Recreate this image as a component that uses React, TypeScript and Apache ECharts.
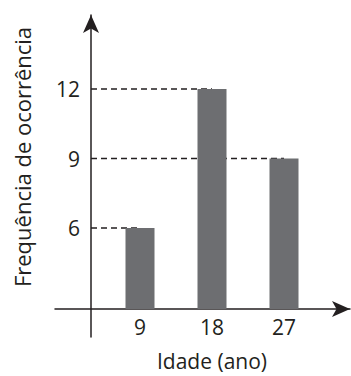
import React, { useEffect, useRef } from "react";
import * as echarts from "echarts";

const ages = [9, 18, 27];
const freqs = [6, 12, 9];
const xTickLabels = [9, 18, 27];
const yTickLabels = [6, 9, 12];
const xTitle = "Idade (ano)";
const yTitle = "Frequência de ocorrência";

const X_MIN = 2.875;
const X_MAX = 35.25;
const Y_MIN = 2.5;
const Y_MAX = 15.2;

const INK = "#231f20";
const FONT = "Open Sans";

export default function App() {
  const ref = useRef<HTMLDivElement>(null);
  useEffect(() => {
    const chart = echarts.init(ref.current!, null, { renderer: "svg" });
    const dashed = freqs.map((f, i) => ({
      type: "line",
      xAxisIndex: 0,
      yAxisIndex: 0,
      z: 1,
      symbol: "none",
      silent: true,
      lineStyle: { color: INK, width: 1.5, type: [6, 4] },
      data: [
        [X_MIN, f],
        [ages[i], f],
      ],
    }));
    chart.setOption({
      animation: false,
      grid: [
        { left: 91, right: 1, top: 15, bottom: 376 - 309 },
        { left: 55, right: 1, top: 15, bottom: 376 - 337 },
      ],
      xAxis: [
        {
          type: "value",
          gridIndex: 0,
          min: X_MIN,
          max: X_MAX,
          axisLine: { show: false },
          axisTick: { show: false },
          splitLine: { show: false },
          axisLabel: {
            customValues: xTickLabels,
            fontSize: 21,
            color: INK,
            fontFamily: FONT,
            margin: 7,
          },
        },
        {
          type: "value",
          gridIndex: 1,
          min: 0,
          max: 1,
          offset: -28,
          axisLine: {
            show: true,
            symbol: ["none", "arrow"],
            symbolSize: [12, 18],
            lineStyle: { color: INK, width: 1.5 },
          },
          axisTick: { show: false },
          axisLabel: { show: false },
          splitLine: { show: false },
        },
      ],
      yAxis: [
        {
          type: "value",
          gridIndex: 0,
          min: Y_MIN,
          max: Y_MAX,
          axisLine: { show: false },
          axisTick: { show: false },
          splitLine: { show: false },
          axisLabel: {
            customValues: yTickLabels,
            fontSize: 21,
            color: INK,
            fontFamily: FONT,
            margin: 11,
          },
        },
        {
          type: "value",
          gridIndex: 1,
          min: 0,
          max: 1,
          offset: -36,
          axisLine: {
            show: true,
            symbol: ["none", "arrow"],
            symbolSize: [12, 18],
            lineStyle: { color: INK, width: 1.5 },
          },
          axisTick: { show: false },
          axisLabel: { show: false },
          splitLine: { show: false },
        },
      ],
      graphic: [
        {
          type: "text",
          x: 212,
          y: 361,
          style: {
            text: xTitle,
            fontSize: 21,
            fontFamily: FONT,
            fill: INK,
            align: "center",
            verticalAlign: "middle",
          },
        },
        {
          type: "text",
          x: 22,
          y: 157,
          rotation: Math.PI / 2,
          style: {
            text: yTitle,
            fontSize: 22,
            fontFamily: FONT,
            fill: INK,
            align: "center",
            verticalAlign: "middle",
          },
        },
      ],
      series: [
        ...dashed,
        {
          type: "bar",
          xAxisIndex: 0,
          yAxisIndex: 0,
          z: 3,
          barWidth: 29,
          itemStyle: { color: "#6d6e71" },
          data: ages.map((a, i) => [a, freqs[i]]),
        },
      ],
    });
    return () => chart.dispose();
  }, []);
  return <div ref={ref} style={{ width: 351, height: 376, position: "absolute", left: 0, top: 0 }} />;
}
